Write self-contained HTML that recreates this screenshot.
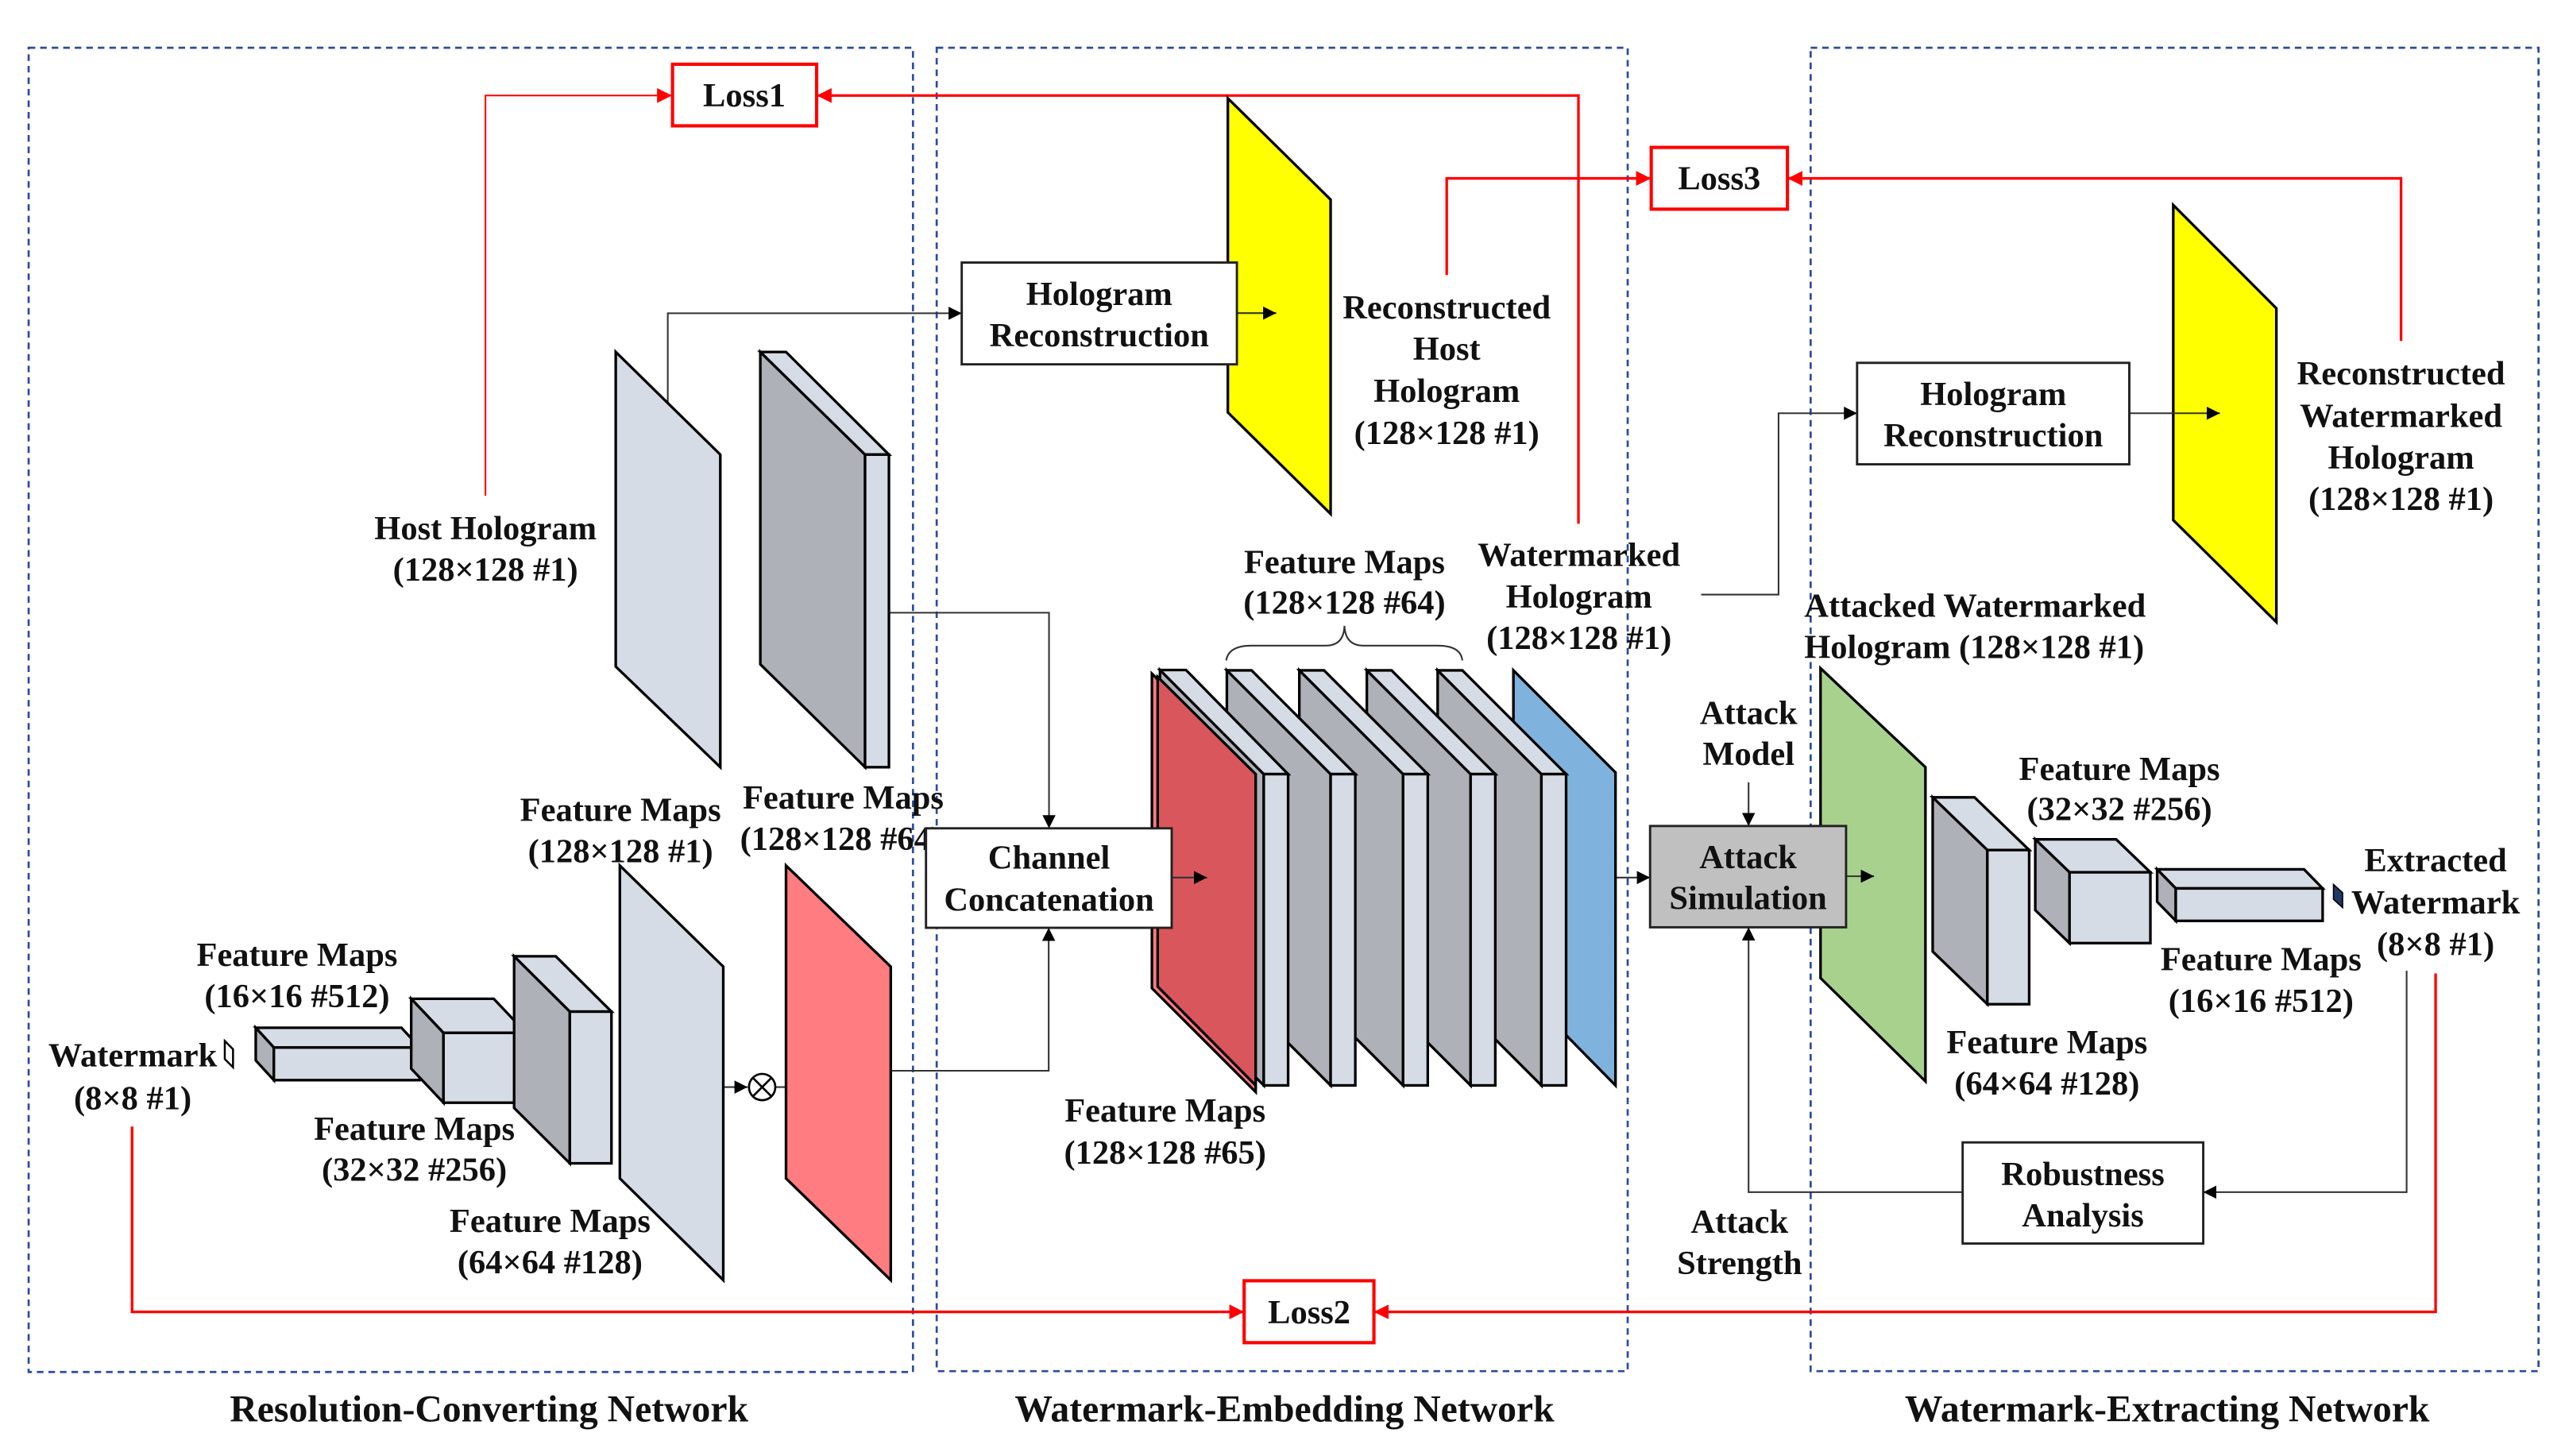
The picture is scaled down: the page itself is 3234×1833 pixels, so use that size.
<!DOCTYPE html>
<html><head><meta charset="utf-8"><style>
html,body{margin:0;padding:0;background:#fff;}
svg{display:block;}
text{font-family:"Liberation Serif",serif;font-weight:bold;fill:#111;}
</style></head><body>
<svg width="3234" height="1833" viewBox="0 0 1560 884" preserveAspectRatio="none" xmlns="http://www.w3.org/2000/svg">
<defs>
<marker id="ab" viewBox="0 0 10 10" refX="10" refY="5" markerWidth="8" markerHeight="8" markerUnits="userSpaceOnUse" orient="auto"><path d="M0,0L10,5L0,10z" fill="#000"/></marker>
<marker id="ar" viewBox="0 0 10 10" refX="10" refY="5" markerWidth="9" markerHeight="9" markerUnits="userSpaceOnUse" orient="auto"><path d="M0,0L10,5L0,10z" fill="#f00"/></marker>
</defs>
<rect width="1560" height="884" fill="#fff"/>

<g fill="none" stroke="#2a4d9c" stroke-width="1.3" stroke-dasharray="4,3">
<rect x="17.4" y="29" width="537" height="804"/>
<rect x="568.8" y="29" width="419.6" height="803.5"/>
<rect x="1099.5" y="29" width="442" height="803.5"/>
</g>

<g font-size="23" text-anchor="middle">
<text x="297" y="863">Resolution-Converting Network</text>
<text x="780" y="863">Watermark-Embedding Network</text>
<text x="1316" y="863">Watermark-Extracting Network</text>
</g>

<g fill="none" stroke="#f00" stroke-width="1.6">
<polyline points="294.8,301 294.8,58 408,58" marker-end="url(#ar)" stroke-width="1"/>
<polyline points="958.5,318 958.5,58 496,58" marker-end="url(#ar)"/>
<polyline points="878.5,167 878.5,108.3 1002.5,108.3" marker-end="url(#ar)"/>
<polyline points="1458,207 1458,108.3 1085.5,108.3" marker-end="url(#ar)"/>
<polyline points="80.2,684 80.2,796.5 755.5,796.5" marker-end="url(#ar)"/>
<polyline points="1479,591 1479,796.5 834.3,796.5" marker-end="url(#ar)"/>
</g>
<g fill="#fff" stroke="#f00" stroke-width="2">
<rect x="408.4" y="39" width="87.5" height="37.4"/>
<rect x="1002.7" y="89.5" width="82.7" height="37.5"/>
<rect x="755.5" y="777.6" width="78.8" height="37.6"/>
</g>
<g font-size="20.5" text-anchor="middle" dominant-baseline="central">
<text x="452" y="58">Loss1</text>
<text x="1044" y="108.5">Loss3</text>
<text x="795" y="797">Loss2</text>
</g>

<g fill="none" stroke="#333" stroke-width="1">
<polyline points="405.5,244 405.5,190.2 584,190.2" marker-end="url(#ab)"/>
<polyline points="539.8,372 637,372 637,502.9" marker-end="url(#ab)"/>
<polyline points="540.9,650.1 636.8,650.1 636.8,563.3" marker-end="url(#ab)"/>
<line x1="981.4" y1="532.8" x2="1002" y2="532.8" marker-end="url(#ab)"/>
<line x1="1061.8" y1="475" x2="1061.8" y2="501.5" marker-end="url(#ab)"/>
<polyline points="1033,361 1080,361 1080,250.9 1127.7,250.9" marker-end="url(#ab)"/>
<polyline points="1461.4,589.4 1461.4,723.8 1337.9,723.8" marker-end="url(#ab)"/>
<polyline points="1191.8,723.8 1061.8,723.8 1061.8,563" marker-end="url(#ab)"/>
<line x1="439.2" y1="660" x2="454" y2="660" marker-end="url(#ab)"/>
<line x1="471" y1="660" x2="490" y2="660" marker-end="url(#ab)"/>
</g>
<circle cx="462.8" cy="660" r="8" fill="#fff" stroke="#000" stroke-width="1.3"/>
<path d="M457.2,654.4L468.4,665.6M468.4,654.4L457.2,665.6" stroke="#000" stroke-width="1.3"/>

<g stroke="#000" stroke-width="1.6" stroke-linejoin="miter">
<polygon points="373.9,213.7 437.4,276 437.4,465.8 373.9,404.7" fill="#d6dce5"/>
<polygon points="461.7,213.7 525.3,276 525.3,465.8 461.7,403.3" fill="#aeb1b8"/>
<polygon points="461.7,213.7 477.3,213.7 539.8,276 525.3,276" fill="#d6dce5"/>
<rect x="525.3" y="276" width="14.5" height="189.8" fill="#d6dce5"/>
<polygon points="376.4,525.5 439.2,586.9 439.2,777.2 376.4,715.5" fill="#d6dce5"/>
<polygon points="477.3,525.5 540.9,586.9 540.9,777.2 477.3,715.5" fill="#ff7c80"/>

<polygon points="155.3,624 243.8,624 254.8,636 166.3,636" fill="#d6dce5"/>
<polygon points="155.3,624 166.3,636 166.3,655.8 155.3,643.8" fill="#aeb1b8"/>
<rect x="166.3" y="636" width="88.5" height="19.8" fill="#d6dce5"/>
<polygon points="249.7,606.4 299.8,606.4 319.4,627.1 269.3,627.1" fill="#d6dce5"/>
<polygon points="249.7,606.4 269.3,627.1 269.3,669.5 249.7,648.8" fill="#aeb1b8"/>
<rect x="269.3" y="627.1" width="50.1" height="42.4" fill="#d6dce5"/>
<polygon points="312.2,580.6 337.5,580.6 371.3,614.2 346,614.2" fill="#d6dce5"/>
<polygon points="312.2,580.6 346,614.2 346,706.3 312.2,672.7" fill="#aeb1b8"/>
<rect x="346" y="614.2" width="25.3" height="92.1" fill="#d6dce5"/>

<polygon points="745.6,59.7 808,121.2 808,312 745.6,250.4" fill="#ffff00"/>
<polygon points="1319.7,124.5 1382.3,187.2 1382.3,377.7 1319.7,315.8" fill="#ffff00"/>

<polygon points="919,407 981,469 981,659 919,596" fill="#7fb3de"/>
<polygon points="873,407 936,470 936,659 873,596" fill="#aeb1b8"/>
<polygon points="873,407 888,407 951,470 936,470" fill="#d6dce5"/>
<rect x="936" y="470" width="15" height="189" fill="#d6dce5"/>
<polygon points="830,407 893,470 893,659 830,596" fill="#aeb1b8"/>
<polygon points="830,407 845,407 908,470 893,470" fill="#d6dce5"/>
<rect x="893" y="470" width="15" height="189" fill="#d6dce5"/>
<polygon points="789,407 852,470 852,659 789,596" fill="#aeb1b8"/>
<polygon points="789,407 804,407 867,470 852,470" fill="#d6dce5"/>
<rect x="852" y="470" width="15" height="189" fill="#d6dce5"/>
<polygon points="745,407 808,470 808,659 745,596" fill="#aeb1b8"/>
<polygon points="745,407 760,407 823,470 808,470" fill="#d6dce5"/>
<rect x="808" y="470" width="15" height="189" fill="#d6dce5"/>
<polygon points="699.5,409 762.5,472 762.5,663 699.5,600" fill="#ff7c80"/>
<polygon points="704.4,406.8 767.4,470 767.4,659 704.4,596" fill="#aeb1b8"/>
<polygon points="704.4,406.8 720.2,406.8 782.2,470 767.4,470" fill="#d6dce5"/>
<rect x="767.4" y="470" width="14.8" height="189" fill="#d6dce5"/>
<polygon points="703,411 762.5,470 762.5,659 703,599" fill="#d9575c"/>

<polygon points="1105.5,405.7 1169.2,465.8 1169.2,656.5 1105.5,593.8" fill="#a9d18e"/>

<polygon points="1173.6,484.1 1199,484.1 1232.2,516.1 1206.8,516.1" fill="#d6dce5"/>
<polygon points="1173.6,484.1 1206.8,516.1 1206.8,609.7 1173.6,577.7" fill="#aeb1b8"/>
<rect x="1206.8" y="516.1" width="25.4" height="93.6" fill="#d6dce5"/>
<polygon points="1235.9,509.6 1285,509.6 1305.8,529.6 1256.7,529.6" fill="#d6dce5"/>
<polygon points="1235.9,509.6 1256.7,529.6 1256.7,572.6 1235.9,552.6" fill="#aeb1b8"/>
<rect x="1256.7" y="529.6" width="49.1" height="43" fill="#d6dce5"/>
<polygon points="1309.9,527.8 1399.1,527.8 1410.4,539.4 1321.2,539.4" fill="#d6dce5"/>
<polygon points="1309.9,527.8 1321.2,539.4 1321.2,559.1 1309.9,547.5" fill="#aeb1b8"/>
<rect x="1321.2" y="539.4" width="89.2" height="19.7" fill="#d6dce5"/>
</g>

<!-- arrows drawn over shapes -->
<g fill="none" stroke="#333" stroke-width="1">
<line x1="751" y1="190.1" x2="775" y2="190.1" marker-end="url(#ab)"/>
<line x1="711.5" y1="532.8" x2="733" y2="532.8" marker-end="url(#ab)"/>
<line x1="1121" y1="532" x2="1138" y2="532" marker-end="url(#ab)"/>
<line x1="1293" y1="250.9" x2="1348" y2="250.9" marker-end="url(#ab)"/>
</g>

<polygon points="136.5,632 141.5,637 141.5,648 136.5,643" fill="#fff" stroke="#000" stroke-width="1.2"/>
<polygon points="1417,537 1422.5,542 1422.5,551 1417,546" fill="#1f3864" stroke="#000" stroke-width="0.8"/>

<path d="M744.6,401 Q746,392 760,392 L805,392 Q816,392 816.4,380 Q817,392 828,392 L873,392 Q887,392 888,401" fill="none" stroke="#333" stroke-width="1"/>

<g font-size="20.5" text-anchor="middle" dominant-baseline="central">
<text x="294.8" y="321">Host Hologram</text>
<text x="294.8" y="346">(128×128 #1)</text>
<text x="376.8" y="492">Feature Maps</text>
<text x="376.8" y="517">(128×128 #1)</text>
<text x="451" y="484.4" text-anchor="start">Feature Maps</text>
<text x="449.4" y="509.4" text-anchor="start">(128×128 #64)</text>
<text x="180.4" y="580">Feature Maps</text>
<text x="180.4" y="605">(16×16 #512)</text>
<text x="80.6" y="641">Watermark</text>
<text x="80.6" y="667">(8×8 #1)</text>
<text x="251.6" y="685.5">Feature Maps</text>
<text x="251.6" y="710.5">(32×32 #256)</text>
<text x="334" y="741.5">Feature Maps</text>
<text x="334" y="766.5">(64×64 #128)</text>
<text x="878.5" y="187">Reconstructed</text>
<text x="878.5" y="212">Host</text>
<text x="878.5" y="237.5">Hologram</text>
<text x="878.5" y="263">(128×128 #1)</text>
<text x="816.4" y="341.5">Feature Maps</text>
<text x="816.4" y="366">(128×128 #64)</text>
<text x="958.8" y="337">Watermarked</text>
<text x="958.8" y="362.5">Hologram</text>
<text x="958.8" y="387.5">(128×128 #1)</text>
<text x="707.5" y="674.5">Feature Maps</text>
<text x="707.5" y="700">(128×128 #65)</text>
<text x="1061.8" y="433">Attack</text>
<text x="1061.8" y="458">Model</text>
<text x="1056.3" y="742">Attack</text>
<text x="1056.3" y="767">Strength</text>
<text x="1095.6" y="368" text-anchor="start">Attacked Watermarked</text>
<text x="1095.6" y="393" text-anchor="start">Hologram (128×128 #1)</text>
<text x="1458" y="227">Reconstructed</text>
<text x="1458" y="252.7">Watermarked</text>
<text x="1458" y="278">Hologram</text>
<text x="1458" y="303">(128×128 #1)</text>
<text x="1287" y="467">Feature Maps</text>
<text x="1287" y="491.5">(32×32 #256)</text>
<text x="1479" y="522.5">Extracted</text>
<text x="1479" y="548">Watermark</text>
<text x="1479" y="573.5">(8×8 #1)</text>
<text x="1373" y="582.5">Feature Maps</text>
<text x="1373" y="608">(16×16 #512)</text>
<text x="1243" y="633">Feature Maps</text>
<text x="1243" y="658">(64×64 #128)</text>
</g>

<g stroke="#222" stroke-width="1.4">
<rect x="584" y="159.4" width="167.1" height="61.8" fill="#fff"/>
<rect x="562.3" y="502.9" width="149.2" height="60.4" fill="#fff"/>
<rect x="1002" y="501.5" width="119" height="61.5" fill="#c0c0c0"/>
<rect x="1127.7" y="220.3" width="165.3" height="61.6" fill="#fff"/>
<rect x="1191.8" y="693.6" width="146.1" height="61.4" fill="#fff"/>
</g>
<g font-size="20.5" text-anchor="middle" dominant-baseline="central">
<text x="667.5" y="178.8">Hologram</text>
<text x="667.5" y="203.7">Reconstruction</text>
<text x="637" y="520.8">Channel</text>
<text x="637" y="546.4">Concatenation</text>
<text x="1061.5" y="520.5">Attack</text>
<text x="1061.5" y="545.5">Simulation</text>
<text x="1210.4" y="239.5">Hologram</text>
<text x="1210.4" y="264.5">Reconstruction</text>
<text x="1264.8" y="713">Robustness</text>
<text x="1264.8" y="738">Analysis</text>
</g>
</svg>
</body></html>
